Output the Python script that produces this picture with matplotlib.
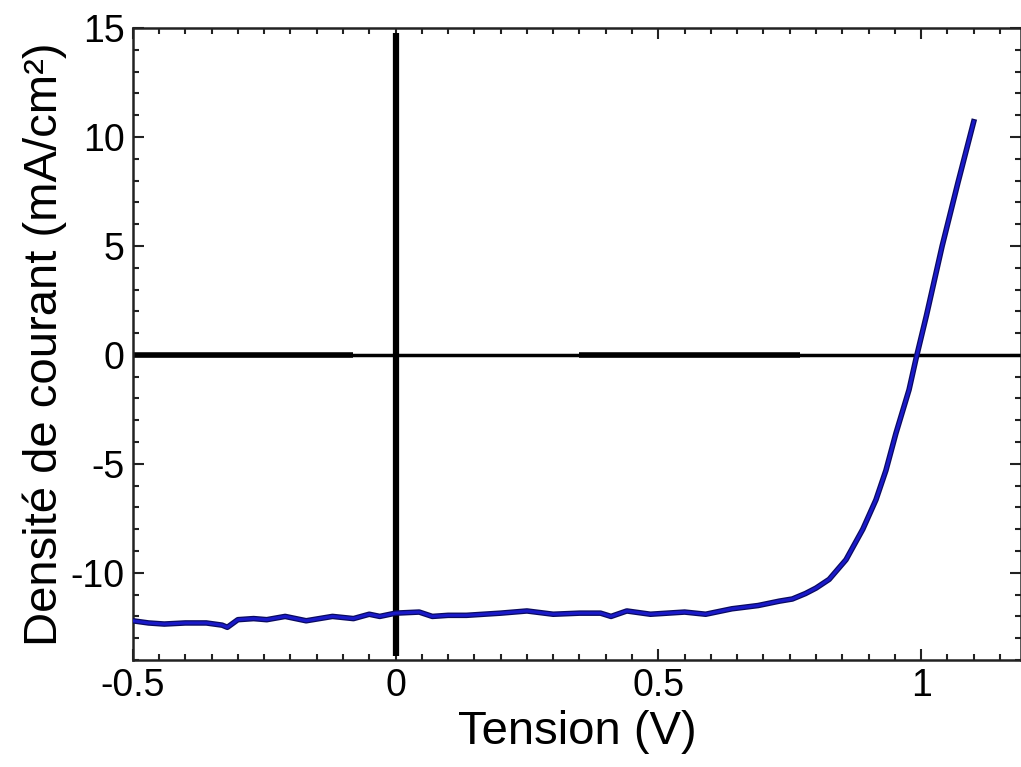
import matplotlib.pyplot as plt
from matplotlib.ticker import MultipleLocator

plt.rcParams['font.family'] = ['Liberation Sans', 'DejaVu Sans']

# J-V curve
tension = [-0.50, -0.47, -0.44, -0.40, -0.36, -0.33, -0.32, -0.30, -0.27, -0.245,
           -0.21, -0.17, -0.12, -0.08, -0.05, -0.03, 0.0, 0.045, 0.07, 0.10,
           0.135, 0.2, 0.25, 0.3, 0.35, 0.39, 0.41, 0.44, 0.485, 0.55,
           0.59, 0.64, 0.69, 0.73, 0.755, 0.78, 0.80, 0.825, 0.857, 0.889,
           0.914, 0.933, 0.952, 0.977, 0.99, 1.01, 1.04, 1.07, 1.10]
densite = [-12.2, -12.3, -12.35, -12.3, -12.3, -12.4, -12.5, -12.15, -12.1, -12.15,
           -12.0, -12.2, -12.0, -12.1, -11.9, -12.0, -11.85, -11.8, -12.0, -11.95,
           -11.95, -11.85, -11.75, -11.9, -11.85, -11.85, -12.0, -11.75, -11.9, -11.8,
           -11.9, -11.65, -11.5, -11.3, -11.2, -10.95, -10.7, -10.3, -9.4, -8.0,
           -6.65, -5.3, -3.6, -1.6, -0.2, 1.8, 5.0, 7.9, 10.7]

# thicker pieces of the zero line
zero_thick_x = [(-0.5, -0.08), (0.35, 0.77)]

fig = plt.figure(figsize=(10.21, 7.67), dpi=100)
ax = fig.add_axes([0.130, 0.1395, 0.870, 0.824])

ax.axhline(0, color='black', lw=2.5, zorder=2)
for x0, x1 in zero_thick_x:
    ax.plot([x0, x1], [0, 0], color='black', lw=4, solid_capstyle='butt', zorder=2)
ax.plot([0, 0], [-13.8, 14.75], color='black', lw=4.5, solid_capstyle='butt', zorder=2)

ax.plot(tension, densite, color='#0a0a60', lw=4, zorder=3)
ax.plot(tension, densite, color='#1a1ac8', lw=2.2, zorder=4)

ax.set_xlim(-0.5, 1.19)
ax.set_ylim(-14, 15)
ax.xaxis.set_minor_locator(MultipleLocator(0.05))
ax.yaxis.set_minor_locator(MultipleLocator(1))
ax.set_xticks([-0.5, 0, 0.5, 1])
ax.set_xticklabels(['-0.5', '0', '0.5', '1'])
ax.set_yticks([-10, -5, 0, 5, 10, 15])
ax.set_yticklabels(['-10', '-5', '0', '5', '10', '15'])

ax.tick_params(which='both', direction='in', top=True, right=True, width=1.5, colors='#222222')
ax.tick_params(which='major', length=8, labelsize=27, labelcolor='black', pad=6)
ax.tick_params(which='minor', length=4)
for s in ax.spines.values():
    s.set_linewidth(1.8)
    s.set_color('#222222')

ax.set_xlabel('Tension (V)', fontsize=34, labelpad=4)
ax.set_ylabel('Densité de courant (mA/cm²)', fontsize=34, labelpad=2)

plt.savefig('out.png', dpi=100)
